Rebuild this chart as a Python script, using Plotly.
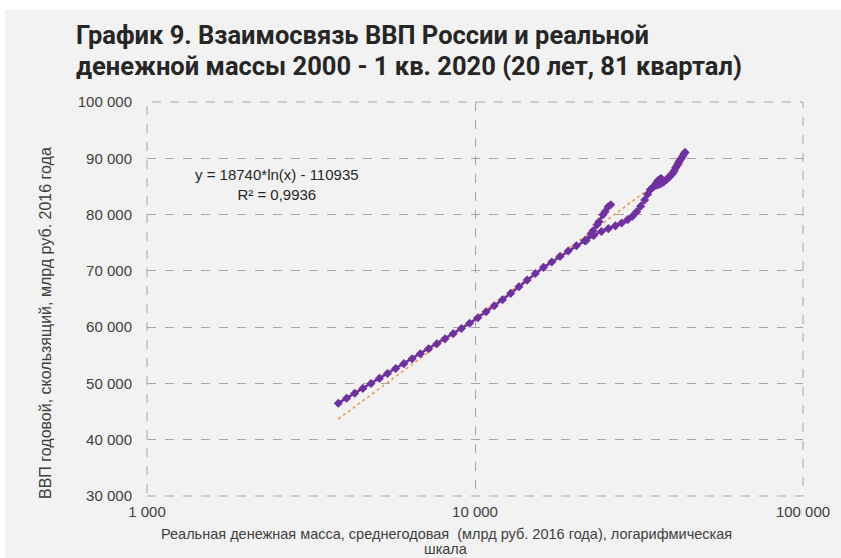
import plotly.graph_objects as go
import numpy as np

# Real money supply (bn rub, 2016 prices), quarterly 2000Q1 - 2020Q1 (81 points)
money = [
    3830, 4060, 4300, 4550, 4820, 5110, 5410, 5730, 6070, 6430,
    6810, 7220, 7650, 8100, 8580, 9090, 9630, 10200, 10810, 11450,
    12130, 12850, 13610, 14420, 15280, 16180, 17140, 18160, 19240, 20380,
    21600,
    22900, 23880, 24910, 25930,
    25450, 24560, 23550, 22580, 21800,
    23000, 24300, 25500, 26800, 28000, 29200, 30200, 31100, 32000, 32900,
    33600, 34200,
    34800, 35400, 35900, 36300, 36700, 36900, 37100, 36800, 36200, 35800,
    35600, 35700, 36200, 36900, 37600, 38300,
    38800, 39300, 39700, 40100, 40500, 40900, 41300, 41700, 42100, 42600,
    43000, 43400, 43700,
]
# GDP, rolling annual (bn rub, 2016 prices)
gdp = [
    46490, 47380, 48260, 49120, 50000, 50890, 51760, 52640, 53510, 54390,
    55270, 56160, 57040, 57920, 58840, 59770, 60690, 61670, 62740, 63810,
    64880, 66000, 67180, 68360, 69540, 70620, 71580, 72560, 73530, 74460,
    75340,
    77130, 78730, 80510, 81750,
    81400, 79970, 78190, 76590, 75350,
    76300, 77000, 77500, 78000, 78500, 79100, 79700, 80500, 81500, 82600,
    83600, 84400,
    84800, 85200, 85500, 85800, 86000, 86200, 86300, 86400, 86100, 85700,
    85400, 85200, 85300, 85500, 85800, 86200,
    86500, 86800, 87100, 87400, 87800, 88300, 88700, 89200, 89600, 90000,
    90400, 90800, 91050,
]

# Logarithmic trend as printed on the chart
trend_a = 18740
trend_b = -110935
r2_text = "R² = 0,9936"
eq_text = "y = 18740*ln(x) - 110935"

x_tickvals = [1000, 10000, 100000]
x_ticktext = ["1 000", "10 000", "100 000"]
y_tickvals = [30000, 40000, 50000, 60000, 70000, 80000, 90000, 100000]
y_ticktext = ["30 000", "40 000", "50 000", "60 000", "70 000", "80 000", "90 000", "100 000"]

title_line1 = "График 9. Взаимосвязь ВВП России и реальной"
title_line2 = "денежной массы 2000 - 1 кв. 2020 (20 лет, 81 квартал)"
x_title_line1 = "Реальная денежная масса, среднегодовая  (млрд руб. 2016 года), логарифмическая"
x_title_line2 = "шкала"
y_title = "ВВП годовой, скользящий, млрд руб. 2016 года"

W, H = 841, 558
L, R, T, B = 147, 38, 102, 62
pw, ph = W - L - R, H - T - B

def px_x(px):
    return (px - L) / pw

def px_y(py):
    return (H - B - py) / ph

tx = np.array([min(money), max(money)], dtype=float)
ty = trend_a * np.log(tx) + trend_b

fig = go.Figure()
fig.add_trace(go.Scatter(
    x=tx, y=ty, mode="lines",
    line=dict(color="#EE9A4A", width=1.6, dash="dot"),
    showlegend=False, hoverinfo="skip",
))
fig.add_trace(go.Scatter(
    x=money, y=gdp, mode="lines+markers",
    line=dict(color="#7030A0", width=2.5),
    marker=dict(symbol="diamond", size=7, color="#7030A0"),
    showlegend=False,
))

grid = dict(showgrid=True, gridcolor="#A6A6A6", gridwidth=1, griddash="dash",
            zeroline=False, showline=False, ticks="")
tick_font = dict(family="Liberation Sans, Arial", size=15, color="#404040")

fig.update_xaxes(type="log", range=[3, 5], tickvals=x_tickvals, ticktext=x_ticktext,
                 tickfont=tick_font, ticklabelstandoff=5, **grid)
fig.update_yaxes(range=[30000, 100000], tickvals=y_tickvals, ticktext=y_ticktext,
                 tickfont=tick_font, ticklabelstandoff=14, **grid)

title_font = dict(family="Roboto", size=25.5, color="#262626")
axis_title_font = dict(family="Liberation Sans, Arial", size=14.5, color="#404040")

fig.update_layout(
    width=W, height=H,
    margin=dict(l=L, r=R, t=T, b=B),
    paper_bgcolor="#F2F2F2", plot_bgcolor="#F2F2F2",
    shapes=[
        dict(type="rect", xref="paper", yref="paper", x0=px_x(-5), x1=px_x(W + 5),
             y0=px_y(10), y1=px_y(-5), fillcolor="white", line=dict(width=0), layer="below"),
        dict(type="rect", xref="paper", yref="paper", x0=px_x(-5), x1=px_x(5),
             y0=px_y(H + 5), y1=px_y(-5), fillcolor="white", line=dict(width=0), layer="below"),
        dict(type="rect", xref="paper", yref="paper", x0=0, x1=1, y0=0, y1=1,
             line=dict(color="#A6A6A6", width=1, dash="dash"), layer="below"),
    ],
    annotations=[
        dict(text="<b>" + title_line1 + "</b>", xref="paper", yref="paper",
             x=px_x(74), y=px_y(35), xanchor="left", yanchor="middle",
             showarrow=False, font=title_font),
        dict(text="<b>" + title_line2 + "</b>", xref="paper", yref="paper",
             x=px_x(74), y=px_y(66), xanchor="left", yanchor="middle",
             showarrow=False, font=title_font),
        dict(text=eq_text + "<br>" + r2_text, xref="paper", yref="paper",
             x=px_x(277), y=px_y(184), xanchor="center", yanchor="middle",
             showarrow=False, align="center",
             font=dict(family="Liberation Sans, Arial", size=15, color="#262626")),
        dict(text=y_title, xref="paper", yref="paper", x=px_x(45), y=px_y(323),
             xanchor="center", yanchor="middle", textangle=-90, showarrow=False,
             font=dict(family="Liberation Sans, Arial", size=16, color="#404040")),
        dict(text=x_title_line1, xref="paper", yref="paper", x=px_x(446), y=px_y(534),
             xanchor="center", yanchor="middle", showarrow=False, font=axis_title_font),
        dict(text=x_title_line2, xref="paper", yref="paper", x=px_x(446), y=px_y(549),
             xanchor="center", yanchor="middle", showarrow=False, font=axis_title_font),
    ],
)

fig.write_html("out.html")
